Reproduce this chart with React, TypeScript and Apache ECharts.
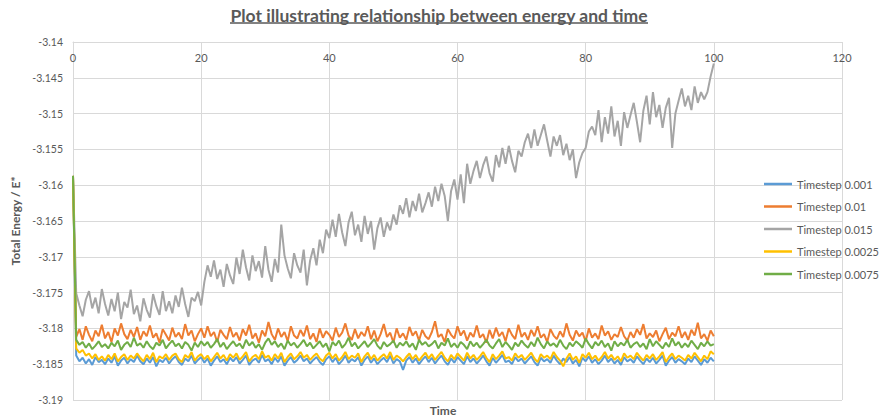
import React, { useEffect, useRef } from "react";
import * as echarts from "echarts";

const TITLE_TEXT = "Plot illustrating relationship between energy and time";
const X_TITLE = "Time";
const Y_TITLE = "Total Energy / E*";
const SERIES_NAMES = ["Timestep 0.001", "Timestep 0.01", "Timestep 0.015", "Timestep 0.0025", "Timestep 0.0075"];
const SERIES_COLORS = ["#5B9BD5", "#ED7D31", "#A5A5A5", "#FFC000", "#70AD47"];
const TIME_STEP = 0.5;
const POINT_COUNT = 201;
const TIMES = Array.from({ length: POINT_COUNT }, (_, i) => i * TIME_STEP);

const E_0001 = [
  -3.1587,
  -3.1838, -3.1846, -3.1841, -3.1849, -3.1843, -3.1851, -3.1840, -3.1847, -3.1844, -3.1850,
  -3.1842, -3.1848, -3.1839, -3.1852, -3.1845, -3.1841, -3.1849, -3.1843, -3.1847, -3.1838,
  -3.1846, -3.1850, -3.1842, -3.1848, -3.1840, -3.1853, -3.1844, -3.1847, -3.1841, -3.1849,
  -3.1843, -3.1839, -3.1847, -3.1851, -3.1842, -3.1846, -3.1838, -3.1849, -3.1844, -3.1840,
  -3.1848, -3.1842, -3.1852, -3.1845, -3.1839, -3.1847, -3.1843, -3.1850, -3.1841, -3.1846,
  -3.1840, -3.1849, -3.1844, -3.1838, -3.1851, -3.1845, -3.1842, -3.1848, -3.1837, -3.1846,
  -3.1843, -3.1850, -3.1841, -3.1847, -3.1839, -3.1852, -3.1845, -3.1840, -3.1848, -3.1844,
  -3.1838, -3.1846, -3.1842, -3.1849, -3.1844, -3.1840, -3.1847, -3.1851, -3.1843, -3.1839,
  -3.1847, -3.1841, -3.1850, -3.1845, -3.1838, -3.1848, -3.1843, -3.1846, -3.1840, -3.1852,
  -3.1844, -3.1839, -3.1848, -3.1842, -3.1850, -3.1845, -3.1841, -3.1847, -3.1838, -3.1849,
  -3.1843, -3.1846, -3.1858, -3.1845, -3.1840, -3.1848, -3.1842, -3.1850, -3.1844, -3.1839,
  -3.1847, -3.1841, -3.1849, -3.1843, -3.1838, -3.1846, -3.1851, -3.1842, -3.1848, -3.1840,
  -3.1845, -3.1850, -3.1839, -3.1847, -3.1842, -3.1849, -3.1844, -3.1838, -3.1846, -3.1852,
  -3.1841, -3.1848, -3.1843, -3.1837, -3.1847, -3.1845, -3.1850, -3.1840, -3.1846, -3.1842,
  -3.1849, -3.1844, -3.1839, -3.1847, -3.1852, -3.1841, -3.1846, -3.1843, -3.1848, -3.1838,
  -3.1845, -3.1850, -3.1842, -3.1847, -3.1840, -3.1849, -3.1844, -3.1853, -3.1841, -3.1846,
  -3.1839, -3.1848, -3.1843, -3.1850, -3.1845, -3.1838, -3.1847, -3.1842, -3.1849, -3.1844,
  -3.1851, -3.1840, -3.1846, -3.1843, -3.1848, -3.1839, -3.1845, -3.1850, -3.1842, -3.1847,
  -3.1841, -3.1849, -3.1844, -3.1838, -3.1852, -3.1845, -3.1840, -3.1848, -3.1843, -3.1846,
  -3.1850, -3.1842, -3.1847, -3.1839, -3.1845, -3.1851, -3.1843, -3.1848, -3.1841, -3.1846,
];

const E_001 = [
  -3.1587,
  -3.1812, -3.1801, -3.1816, -3.1797, -3.1809, -3.1818, -3.1803, -3.1811, -3.1795, -3.1814,
  -3.1805, -3.1819, -3.1800, -3.1810, -3.1793, -3.1808, -3.1815, -3.1802, -3.1812, -3.1798,
  -3.1816, -3.1804, -3.1811, -3.1796, -3.1813, -3.1807, -3.1820, -3.1801, -3.1809, -3.1817,
  -3.1799, -3.1812, -3.1806, -3.1815, -3.1794, -3.1810, -3.1803, -3.1818, -3.1808, -3.1800,
  -3.1813, -3.1797, -3.1811, -3.1805, -3.1819, -3.1802, -3.1809, -3.1815, -3.1798, -3.1812,
  -3.1806, -3.1817, -3.1801, -3.1810, -3.1795, -3.1814, -3.1807, -3.1820, -3.1803, -3.1811,
  -3.1791, -3.1808, -3.1816, -3.1800, -3.1812, -3.1805, -3.1818, -3.1797, -3.1810, -3.1814,
  -3.1802, -3.1811, -3.1796, -3.1815, -3.1807, -3.1819, -3.1800, -3.1813, -3.1804, -3.1809,
  -3.1817, -3.1799, -3.1812, -3.1806, -3.1793, -3.1810, -3.1816, -3.1801, -3.1814, -3.1805,
  -3.1811, -3.1797, -3.1815, -3.1803, -3.1818, -3.1808, -3.1794, -3.1812, -3.1806, -3.1820,
  -3.1800, -3.1813, -3.1807, -3.1816, -3.1798, -3.1810, -3.1804, -3.1817, -3.1802, -3.1811,
  -3.1815, -3.1805, -3.1790, -3.1812, -3.1808, -3.1819, -3.1801, -3.1809, -3.1814, -3.1797,
  -3.1810, -3.1803, -3.1817, -3.1806, -3.1812, -3.1796, -3.1813, -3.1808, -3.1820, -3.1802,
  -3.1814, -3.1799, -3.1811, -3.1805, -3.1818, -3.1800, -3.1809, -3.1815, -3.1795, -3.1812,
  -3.1806, -3.1816, -3.1802, -3.1811, -3.1797, -3.1813, -3.1808, -3.1819, -3.1801, -3.1810,
  -3.1815, -3.1804, -3.1812, -3.1793, -3.1809, -3.1817, -3.1803, -3.1811, -3.1806, -3.1818,
  -3.1800, -3.1813, -3.1807, -3.1815, -3.1796, -3.1810, -3.1804, -3.1816, -3.1808, -3.1812,
  -3.1798, -3.1811, -3.1817, -3.1805, -3.1813, -3.1801, -3.1809, -3.1794, -3.1814, -3.1807,
  -3.1812, -3.1803, -3.1818, -3.1808, -3.1799, -3.1815, -3.1806, -3.1811, -3.1797, -3.1813,
  -3.1805, -3.1816, -3.1802, -3.1810, -3.1792, -3.1814, -3.1808, -3.1817, -3.1803, -3.1811,
];

const E_0015 = [
  -3.1587,
  -3.1751, -3.1768, -3.1783, -3.1760, -3.1748, -3.1772, -3.1757, -3.1779, -3.1745, -3.1766,
  -3.1782, -3.1759, -3.1776, -3.1750, -3.1787, -3.1763, -3.1771, -3.1746, -3.1780, -3.1768,
  -3.1790, -3.1758, -3.1774, -3.1785, -3.1752, -3.1769, -3.1781, -3.1748, -3.1776, -3.1762,
  -3.1779, -3.1754, -3.1770, -3.1743, -3.1766, -3.1784, -3.1757, -3.1762, -3.1749, -3.1768,
  -3.1735, -3.1712, -3.1728, -3.1705, -3.1731, -3.1718, -3.1742, -3.1710, -3.1726, -3.1738,
  -3.1701, -3.1724, -3.1690, -3.1715, -3.1733, -3.1698, -3.1720, -3.1706, -3.1729, -3.1685,
  -3.1718, -3.1735, -3.1703, -3.1722, -3.1655, -3.1698, -3.1716, -3.1730, -3.1695, -3.1712,
  -3.1722, -3.1690, -3.1740, -3.1705, -3.1688, -3.1712, -3.1676, -3.1695, -3.1662, -3.1674,
  -3.1648, -3.1672, -3.1640, -3.1666, -3.1685, -3.1652, -3.1637, -3.1670, -3.1655, -3.1679,
  -3.1643, -3.1668, -3.1650, -3.1690, -3.1660, -3.1645, -3.1672, -3.1652, -3.1663, -3.1641,
  -3.1655, -3.1628, -3.1640, -3.1618, -3.1645, -3.1622, -3.1636, -3.1612, -3.1638, -3.1625,
  -3.1610, -3.1630, -3.1602, -3.1622, -3.1598, -3.1615, -3.1650, -3.1608, -3.1592, -3.1620,
  -3.1585, -3.1625, -3.1570, -3.1598, -3.1580, -3.1566, -3.1590, -3.1572, -3.1560, -3.1583,
  -3.1595, -3.1558, -3.1575, -3.1548, -3.1570, -3.1545, -3.1566, -3.1582, -3.1552, -3.1560,
  -3.1540, -3.1528, -3.1548, -3.1522, -3.1545, -3.1530, -3.1515, -3.1538, -3.1560, -3.1532,
  -3.1545, -3.1530, -3.1558, -3.1542, -3.1565, -3.1550, -3.1590, -3.1568, -3.1555, -3.1548,
  -3.1525, -3.1518, -3.1530, -3.1495, -3.1540, -3.1505, -3.1528, -3.1490, -3.1532, -3.1510,
  -3.1545, -3.1498, -3.1520, -3.1502, -3.1485, -3.1512, -3.1540, -3.1496, -3.1475, -3.1515,
  -3.1470, -3.1505, -3.1488, -3.1520, -3.1492, -3.1478, -3.1548, -3.1500, -3.1482, -3.1465,
  -3.1490, -3.1475, -3.1495, -3.1462, -3.1485, -3.1470, -3.1480, -3.1470, -3.1448, -3.1430,
];

const E_00025 = [
  -3.1587,
  -3.1828, -3.1834, -3.1830, -3.1838, -3.1835, -3.1842, -3.1836, -3.1844, -3.1839, -3.1845,
  -3.1837, -3.1843, -3.1835, -3.1846, -3.1840, -3.1836, -3.1844, -3.1838, -3.1842, -3.1835,
  -3.1841, -3.1846, -3.1837, -3.1843, -3.1834, -3.1847, -3.1839, -3.1842, -3.1836, -3.1844,
  -3.1838, -3.1835, -3.1843, -3.1847, -3.1837, -3.1841, -3.1833, -3.1845, -3.1839, -3.1836,
  -3.1843, -3.1838, -3.1846, -3.1840, -3.1834, -3.1842, -3.1837, -3.1845, -3.1836, -3.1841,
  -3.1835, -3.1844, -3.1839, -3.1833, -3.1846, -3.1840, -3.1837, -3.1843, -3.1832, -3.1841,
  -3.1838, -3.1845, -3.1836, -3.1842, -3.1834, -3.1847, -3.1840, -3.1835, -3.1843, -3.1839,
  -3.1833, -3.1841, -3.1837, -3.1844, -3.1839, -3.1835, -3.1842, -3.1846, -3.1838, -3.1834,
  -3.1842, -3.1836, -3.1845, -3.1840, -3.1833, -3.1843, -3.1838, -3.1841, -3.1835, -3.1847,
  -3.1839, -3.1834, -3.1843, -3.1837, -3.1845, -3.1840, -3.1836, -3.1842, -3.1833, -3.1844,
  -3.1838, -3.1841, -3.1846, -3.1840, -3.1835, -3.1843, -3.1837, -3.1845, -3.1839, -3.1834,
  -3.1842, -3.1836, -3.1844, -3.1838, -3.1833, -3.1841, -3.1846, -3.1837, -3.1843, -3.1835,
  -3.1840, -3.1845, -3.1834, -3.1842, -3.1837, -3.1844, -3.1839, -3.1833, -3.1841, -3.1847,
  -3.1836, -3.1843, -3.1838, -3.1832, -3.1842, -3.1840, -3.1845, -3.1835, -3.1841, -3.1837,
  -3.1844, -3.1839, -3.1834, -3.1842, -3.1847, -3.1836, -3.1841, -3.1838, -3.1843, -3.1833,
  -3.1840, -3.1845, -3.1853, -3.1842, -3.1835, -3.1844, -3.1839, -3.1848, -3.1836, -3.1841,
  -3.1834, -3.1843, -3.1838, -3.1845, -3.1840, -3.1833, -3.1842, -3.1837, -3.1844, -3.1839,
  -3.1846, -3.1835, -3.1841, -3.1838, -3.1843, -3.1834, -3.1840, -3.1845, -3.1837, -3.1842,
  -3.1836, -3.1844, -3.1839, -3.1833, -3.1847, -3.1840, -3.1835, -3.1843, -3.1838, -3.1841,
  -3.1845, -3.1837, -3.1842, -3.1834, -3.1840, -3.1846, -3.1838, -3.1843, -3.1832, -3.1836,
];

const E_00075 = [
  -3.1587,
  -3.1816, -3.1823, -3.1819, -3.1827, -3.1821, -3.1829, -3.1824, -3.1818, -3.1826, -3.1822,
  -3.1828, -3.1820, -3.1825, -3.1817, -3.1830, -3.1823, -3.1819, -3.1826, -3.1813, -3.1824,
  -3.1821, -3.1827, -3.1818, -3.1825, -3.1829, -3.1820, -3.1824, -3.1816, -3.1828, -3.1822,
  -3.1817, -3.1825, -3.1821, -3.1828, -3.1819, -3.1823, -3.1831, -3.1820, -3.1826, -3.1818,
  -3.1824, -3.1819, -3.1827, -3.1822, -3.1815, -3.1826, -3.1820, -3.1829, -3.1823, -3.1818,
  -3.1825, -3.1821, -3.1828, -3.1816, -3.1824, -3.1819, -3.1827, -3.1822, -3.1830, -3.1820,
  -3.1814, -3.1823, -3.1818, -3.1826, -3.1821, -3.1829, -3.1817, -3.1824, -3.1820, -3.1827,
  -3.1822, -3.1816, -3.1825, -3.1820, -3.1828, -3.1823, -3.1818, -3.1826, -3.1821, -3.1832,
  -3.1819, -3.1824, -3.1817, -3.1827, -3.1822, -3.1813, -3.1825, -3.1820, -3.1828, -3.1823,
  -3.1818, -3.1826, -3.1821, -3.1815, -3.1824, -3.1829, -3.1819, -3.1825, -3.1822, -3.1817,
  -3.1827, -3.1820, -3.1824, -3.1818, -3.1826, -3.1821, -3.1830, -3.1816, -3.1823, -3.1819,
  -3.1825, -3.1822, -3.1817, -3.1828, -3.1820, -3.1824, -3.1814, -3.1826, -3.1821, -3.1827,
  -3.1819, -3.1823, -3.1829, -3.1818, -3.1825, -3.1820, -3.1827, -3.1822, -3.1816, -3.1824,
  -3.1828, -3.1821, -3.1815, -3.1826, -3.1819, -3.1824, -3.1830, -3.1820, -3.1825, -3.1817,
  -3.1823, -3.1827, -3.1819, -3.1825, -3.1813, -3.1822, -3.1828, -3.1818, -3.1824, -3.1821,
  -3.1826, -3.1816, -3.1824, -3.1829, -3.1820, -3.1825, -3.1818, -3.1822, -3.1827, -3.1814,
  -3.1822, -3.1828, -3.1819, -3.1824, -3.1817, -3.1826, -3.1821, -3.1831, -3.1818, -3.1825,
  -3.1820, -3.1824, -3.1816, -3.1827, -3.1822, -3.1819, -3.1826, -3.1821, -3.1829, -3.1815,
  -3.1825, -3.1818, -3.1823, -3.1828, -3.1820, -3.1826, -3.1814, -3.1824, -3.1819, -3.1827,
  -3.1821, -3.1826, -3.1817, -3.1823, -3.1829, -3.1820, -3.1825, -3.1818, -3.1824, -3.1822,
];

const SERIES_VALUES = [E_0001, E_001, E_0015, E_00025, E_00075];

const X_MIN = 0;
const X_MAX = 120;
const X_INTERVAL = 20;
const Y_MIN = -3.19;
const Y_MAX = -3.14;
const Y_INTERVAL = 0.005;

const FONT = "Lato, 'Open Sans', sans-serif";
const TEXT_COLOR = "#595959";
const GRID_COLOR = "#d9d9d9";

export default function App() {
  const ref = useRef<HTMLDivElement>(null);

  useEffect(() => {
    if (!ref.current) return;
    const chart = echarts.init(ref.current, null, { renderer: "svg" });

    // size the title so it spans the same width as the reference
    const targetTitleW = 418;
    let titleSize = 17;
    try {
      const ctx = document.createElement("canvas").getContext("2d");
      if (ctx) {
        ctx.font = "bold 100px Lato";
        const w = ctx.measureText(TITLE_TEXT).width;
        if (w > 0) titleSize = (100 * targetTitleW) / w;
      }
    } catch (e) {}
    const titleCx = 439;

    const series = SERIES_NAMES.map((name, k) => ({
      name,
      type: "line",
      data: TIMES.map((t, i) => [t, SERIES_VALUES[k][i]]),
      symbol: "none",
      showSymbol: false,
      lineStyle: { width: 2, color: SERIES_COLORS[k] },
      itemStyle: { color: SERIES_COLORS[k] },
      emphasis: { disabled: true },
      z: 2 + k,
    }));

    chart.setOption({
      animation: false,
      color: SERIES_COLORS,
      grid: { left: 73, right: 38, top: 42, bottom: 19, containLabel: false, outerBoundsMode: "none" },
      legend: {
        orient: "vertical",
        left: 759,
        top: 172,
        icon: "rect",
        itemWidth: 28,
        itemHeight: 2.5,
        itemGap: 8.5,
        data: SERIES_NAMES,
        textStyle: { color: TEXT_COLOR, fontSize: 11, fontFamily: FONT, lineHeight: 14, height: 14 },
        selectedMode: false,
      },
      xAxis: {
        type: "value",
        position: "top",
        min: X_MIN,
        max: X_MAX,
        interval: X_INTERVAL,
        axisLine: { show: true, onZero: false, lineStyle: { color: GRID_COLOR, width: 1 } },
        axisTick: { show: false },
        splitLine: { show: true, lineStyle: { color: GRID_COLOR, width: 1 } },
        axisLabel: { inside: true, margin: 10, color: TEXT_COLOR, fontSize: 11, fontFamily: FONT },
      },
      yAxis: {
        type: "value",
        min: Y_MIN,
        max: Y_MAX,
        interval: Y_INTERVAL,
        name: Y_TITLE,
        nameLocation: "middle",
        nameGap: 52,
        nameTextStyle: { color: TEXT_COLOR, fontSize: 12, fontWeight: "bold", fontFamily: FONT },
        axisLine: { show: true, onZero: false, lineStyle: { color: GRID_COLOR, width: 1 } },
        axisTick: { show: false },
        splitLine: { show: true, lineStyle: { color: GRID_COLOR, width: 1 } },
        axisLabel: {
          margin: 10,
          color: TEXT_COLOR,
          fontSize: 10.5,
          fontFamily: FONT,
          formatter: (v: number) => String(Number(v.toFixed(3))),
        },
      },
      graphic: [
        {
          type: "text",
          x: titleCx,
          y: 15,
          style: {
            text: TITLE_TEXT,
            fill: TEXT_COLOR,
            fontSize: titleSize,
            fontWeight: "bold",
            fontFamily: FONT,
            align: "center",
            verticalAlign: "middle",
          },
        },
        {
          type: "line",
          shape: { x1: titleCx - targetTitleW / 2, y1: 23, x2: titleCx + targetTitleW / 2, y2: 23 },
          style: { stroke: TEXT_COLOR, lineWidth: 1.5 },
        },
        {
          type: "text",
          x: 443,
          y: 410,
          style: {
            text: X_TITLE,
            fill: TEXT_COLOR,
            fontSize: 12,
            fontWeight: "bold",
            fontFamily: FONT,
            align: "center",
            verticalAlign: "middle",
          },
        },
      ],
      series,
    });

    return () => chart.dispose();
  }, []);

  return (
    <div
      ref={ref}
      style={{ position: "absolute", left: 0, top: 0, width: 880, height: 419, background: "#fff" }}
    />
  );
}
